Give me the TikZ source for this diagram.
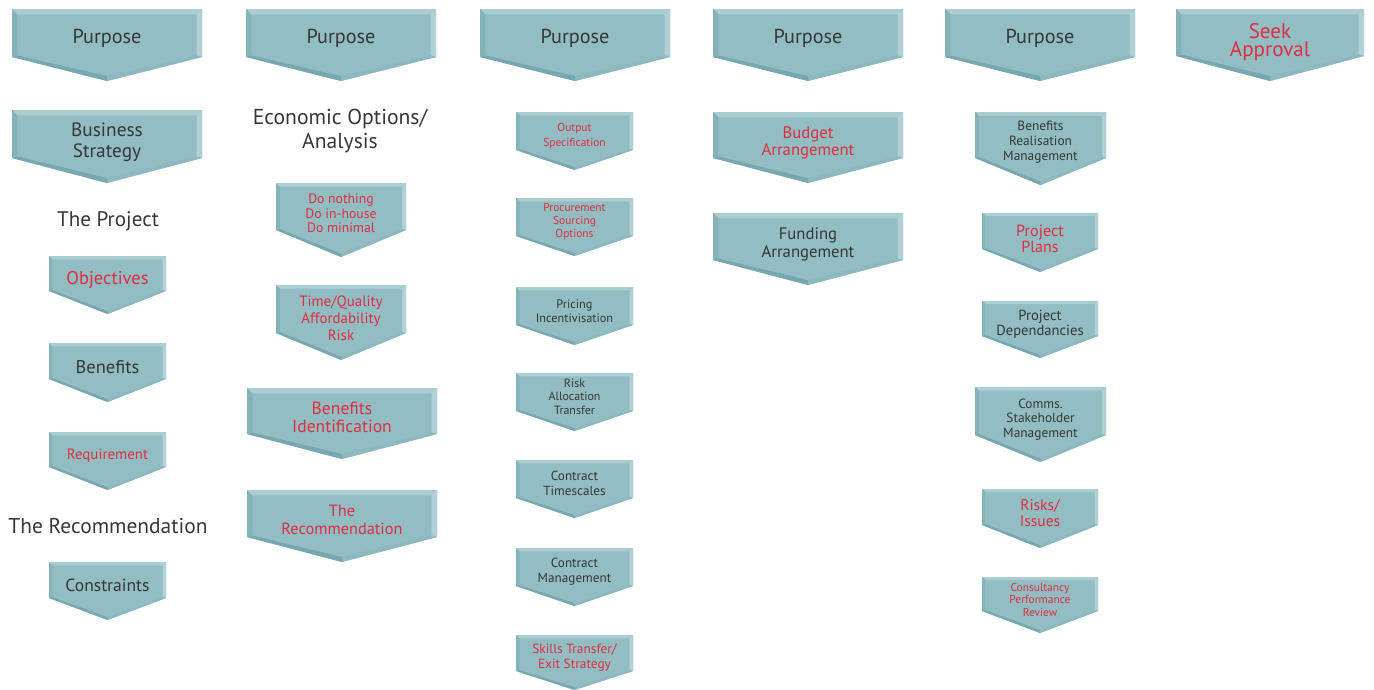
\documentclass[tikz,border=0pt]{standalone}
\usepackage{fontspec}
\setmainfont{PT Sans}

\definecolor{chevmain}{RGB}{145,189,195}
\definecolor{chevtop}{RGB}{170,205,209}
\definecolor{chevright}{RGB}{176,209,213}
\definecolor{chevleft}{RGB}{132,178,185}
\definecolor{chevbl}{RGB}{120,168,175}
\definecolor{chevbr}{RGB}{140,185,191}
\definecolor{labelgrey}{RGB}{55,55,55}
\definecolor{labelred}{RGB}{226,46,64}

\tikzset{
  lbl/.style={align=center, inner sep=0pt, text=labelgrey},
  hot/.style={lbl, text=labelred},
  fs/.style args={#1/#2}{font=\fontsize{#1}{#2}\selectfont}
}

% chevron box: name, x centre, y top, width, body height, tip depth, style, text
\newcommand{\chev}[8]{%
  \pgfmathsetmacro{\bv}{0.03*#4}
  \coordinate (#1-tl) at ({#2-#4/2},{#3});
  \coordinate (#1-tr) at ({#2+#4/2},{#3});
  \coordinate (#1-r)  at ({#2+#4/2},{#3+#5});
  \coordinate (#1-b)  at ({#2},{#3+#5+#6});
  \coordinate (#1-l)  at ({#2-#4/2},{#3+#5});
  \coordinate (#1-itl) at ({#2-#4/2+\bv},{#3+\bv});
  \coordinate (#1-itr) at ({#2+#4/2-\bv},{#3+\bv});
  \coordinate (#1-ir)  at ({#2+#4/2-\bv},{#3+#5-0.3*\bv});
  \coordinate (#1-ib)  at ({#2},{#3+#5+#6-0.9*\bv});
  \coordinate (#1-il)  at ({#2-#4/2+\bv},{#3+#5-0.3*\bv});
  \fill[chevmain]  (#1-tl) -- (#1-tr) -- (#1-r) -- (#1-b) -- (#1-l) -- cycle;
  \fill[chevtop]   (#1-tl) -- (#1-tr) -- (#1-itr) -- (#1-itl) -- cycle;
  \fill[chevright] (#1-tr) -- (#1-r) -- (#1-ir) -- (#1-itr) -- cycle;
  \fill[chevbr]    (#1-r) -- (#1-b) -- (#1-ib) -- (#1-ir) -- cycle;
  \fill[chevbl]    (#1-b) -- (#1-l) -- (#1-il) -- (#1-ib) -- cycle;
  \fill[chevleft]  (#1-l) -- (#1-tl) -- (#1-itl) -- (#1-il) -- cycle;
  \fill[chevmain]  (#1-itl) -- (#1-itr) -- (#1-ir) -- (#1-ib) -- (#1-il) -- cycle;
  \node[#7] (#1) at ({#2},{#3+0.41*(#5+#6)}) {#8};
}

\begin{document}
\begin{tikzpicture}[x=0.02cm, y=-0.02cm]
    \useasboundingbox (0,0) rectangle (1374,690);

    % column 1
    \chev{pur1}{107}{9}{190}{48}{24}{lbl, fs=11.5/13}{Purpose}
    \chev{bstrat}{107}{110}{190}{48}{25}{lbl, fs=11/12, yshift=-1.5pt}{Business\\Strategy}
    \node (proj) [lbl, fs=12/14] at (108,221) {The Project};
    \chev{obj}{107.5}{256}{117}{35}{23}{hot, fs=10.5/12}{Objectives}
    \chev{ben}{107.5}{343}{117}{36}{23}{lbl, fs=10.5/12}{Benefits}
    \chev{req}{107.5}{432}{117}{35}{23}{hot, fs=8.5/10}{Requirement}
    \node (rec) [lbl, fs=12.2/14] at (108,526) {The Recommendation};
    \chev{cons}{107.5}{562}{117}{36}{22}{lbl, fs=10/12}{Constraints}

    % column 2
    \chev{pur2}{341}{9}{190}{48}{24}{lbl, fs=11.5/13}{Purpose}
    \node (econ) [lbl, fs=12.3/13.6] at (340,131) {Economic Options/\\Analysis};
    \chev{opts}{341}{183}{130}{47}{27}{hot, fs=7.8/8.3}{Do nothing\\Do in-house\\Do minimal}
    \chev{tqa}{341}{285}{130}{48}{27}{hot, fs=8.5/9.6, yshift=-1.5pt}{Time/Quality\\Affordability\\Risk}
    \chev{benid}{342}{388}{190}{46}{25}{hot, fs=10/10.5}{Benefits\\Identification}
    \chev{recbox}{342}{490}{190}{47}{25}{hot, fs=9.3/10.4}{The\\Recommendation}

    % column 3
    \chev{pur3}{575}{9}{190}{48}{24}{lbl, fs=11.5/13}{Purpose}
    \chev{outspec}{574.5}{112}{117}{38}{20}{hot, fs=6.5/8.5}{Output\\Specification}
    \chev{procure}{574.5}{198}{117}{38}{20}{hot, fs=6.5/7.4}{Procurement\\Sourcing\\Options}
    \chev{pricing}{574.5}{287}{117}{38}{20}{lbl, fs=7/8}{Pricing\\Incentivisation}
    \chev{riskalloc}{574.5}{373}{117}{38}{20}{lbl, fs=6.8/7.5}{Risk\\Allocation\\Transfer}
    \chev{timescales}{574.5}{460}{117}{38}{20}{lbl, fs=7.5/8.5}{Contract\\Timescales}
    \chev{contmgmt}{574.5}{548}{117}{38}{20}{lbl, fs=7.5/8.5}{Contract\\Management}
    \chev{skills}{574.5}{635}{117}{36}{19}{hot, fs=7.6/8.5}{Skills Transfer/\\Exit Strategy}

    % column 4
    \chev{pur4}{808}{9}{190}{48}{24}{lbl, fs=11.5/13}{Purpose}
    \chev{budget}{808}{112}{190}{46}{25}{hot, fs=9.5/9.8, yshift=-1pt}{Budget\\Arrangement}
    \chev{funding}{808}{213}{190}{47}{25}{lbl, fs=9.5/9.8, yshift=-1pt}{Funding\\Arrangement}

    % column 5
    \chev{pur5}{1040}{9}{190}{48}{24}{lbl, fs=11.5/13}{Purpose}
    \chev{benreal}{1040.5}{112}{131}{46}{27}{lbl, fs=7.6/8.5}{Benefits\\Realisation\\Management}
    \chev{plans}{1040}{213}{116}{36}{23}{hot, fs=9.2/9, yshift=-1pt}{Project\\Plans}
    \chev{depend}{1040}{301}{116}{35}{22}{lbl, fs=8.3/8.1}{Project\\Dependancies}
    \chev{comms}{1040.5}{387}{131}{48}{27}{lbl, fs=7.6/8.4, yshift=-1pt}{Comms.\\Stakeholder\\Management}
    \chev{risks}{1040}{489}{116}{36}{23}{hot, fs=8.8/9.4}{Risks/\\Issues}
    \chev{consult}{1040}{577}{116}{34}{22}{hot, fs=6.5/7.2}{Consultancy\\Performance\\Review}

    % column 6
    \chev{approval}{1270}{9}{188}{47}{25}{hot, fs=12/10.5, yshift=-2pt}{Seek\\Approval}

\end{tikzpicture}
\end{document}
